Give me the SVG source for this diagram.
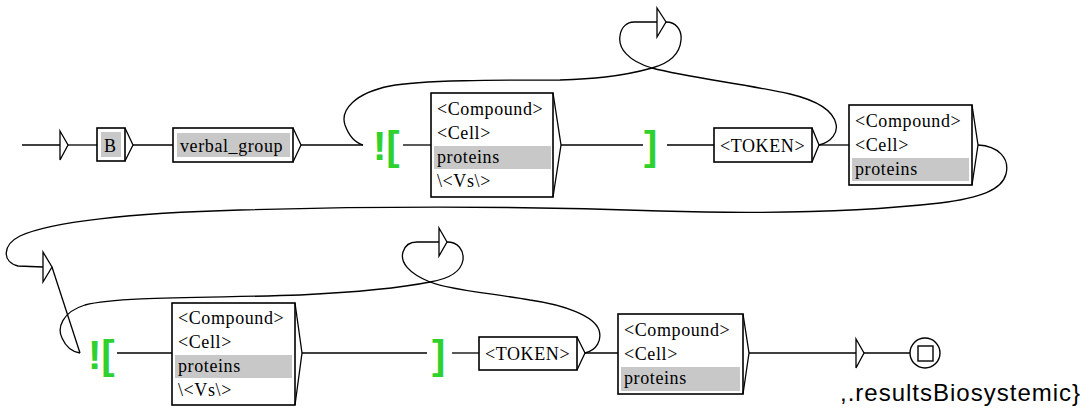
<svg xmlns="http://www.w3.org/2000/svg" width="1091" height="408" viewBox="0 0 1091 408">
<style>
.box{fill:#fff;stroke:#000;stroke-width:1.6}
.hl{fill:#c8c8c8;stroke:none}
.tri{fill:none;stroke:#000;stroke-width:1.3;stroke-linejoin:miter}
.etri{fill:#fff;stroke:#000;stroke-width:1.3}
.c{fill:none;stroke:#000;stroke-width:1.3}
.t{font-family:"Liberation Serif","Times New Roman",serif;font-size:18px;letter-spacing:0.6px;fill:#000}
.g{font-family:"Liberation Sans",Arial,sans-serif;font-weight:bold;font-size:40px;fill:#2ed12e}
.o{font-family:"Liberation Sans",Arial,sans-serif;font-size:24px;letter-spacing:1px;fill:#000}
</style>
<rect width="1091" height="408" fill="#fff"/>
<g id="connectors">
  <line class="c" x1="22" y1="145" x2="60" y2="145"/>
  <line class="c" x1="68" y1="145" x2="97" y2="145"/>
  <line class="c" x1="133" y1="145" x2="173" y2="145"/>
  <line class="c" x1="301" y1="145" x2="363" y2="145"/>
  <line class="c" x1="403" y1="145" x2="431" y2="145"/>
  <line class="c" x1="561" y1="145" x2="643" y2="145"/>
  <line class="c" x1="667" y1="145" x2="714" y2="145"/>
  <line class="c" x1="819" y1="145" x2="849" y2="145"/>
  <path class="c" d="M819,145 C832,142 838,132 836,124 C833,110 815,100 790,94 C740,83 690,78 652,68 C628,61 618,48 620,36 C621,27 627,22 634,22 L657,22"/>
  <path class="c" d="M666,22 C676,22 682,30 681,40 C680,53 670,63 652,68 C620,77 590,79 560,80 C500,80 420,80 390,86 C355,93 340,110 345,125 C349,136 356,143 363,145"/>
  <path class="c" d="M978,145 C998,146 1010,158 1006,174 C1002,190 980,198 940,203 C860,212 760,214 660,211 C520,206 380,206 240,210 C130,213 50,222 20,236 C2,245 2,262 18,266 L43,267"/>
  <line class="c" x1="52" y1="267" x2="80" y2="353"/>
  <path class="c" d="M447,242 C458,242 464,250 463,260 C461,272 448,279 430,282 C390,290 340,293 300,295 C220,298 120,296 85,305 C62,312 57,328 62,338 C66,347 73,352 80,353"/>
  <line class="c" x1="117" y1="353" x2="172" y2="353"/>
  <line class="c" x1="302" y1="353" x2="427" y2="353"/>
  <line class="c" x1="452" y1="353" x2="479" y2="353"/>
  <path class="c" d="M585,353 C597,350 602,340 599,330 C594,316 565,305 530,300 C490,293 450,290 430,282 C408,273 400,262 403,252 C405,245 410,242 417,242 L439,242"/>
  <line class="c" x1="585" y1="353" x2="618" y2="353"/>
  <line class="c" x1="749" y1="353" x2="856" y2="353"/>
  <line class="c" x1="864" y1="353" x2="910" y2="353"/>
</g>
<g id="initial">
  <polygon class="etri" points="60,131 68,145 60,160"/>
</g>
<g id="box-B">
  <rect class="box" x="97" y="128" width="28" height="33"/>
  <rect class="hl" x="101" y="132" width="20" height="25"/>
  <text class="t" x="104" y="152">B</text>
  <polyline class="tri" points="125,128 133,145 125,161"/>
</g>
<g id="box-verbal-group">
  <rect class="box" x="173" y="128" width="120" height="34"/>
  <rect class="hl" x="177" y="133" width="113" height="24"/>
  <text class="t" x="180" y="152">verbal_group</text>
  <polyline class="tri" points="293,128 301,145 293,162"/>
</g>
<g id="ctx-open-1">
  <text class="g" x="373" y="160">![</text>
</g>
<g id="box-compound-1">
  <rect class="box" x="431" y="93" width="122" height="104"/>
  <rect class="hl" x="434" y="146" width="117" height="23"/>
  <text class="t" x="437" y="115">&lt;Compound&gt;</text>
  <text class="t" x="437" y="139">&lt;Cell&gt;</text>
  <text class="t" x="437" y="163">proteins</text>
  <text class="t" x="437" y="187">\&lt;Vs\&gt;</text>
  <polyline class="tri" points="553,93 561,145 553,197"/>
</g>
<g id="ctx-close-1">
  <text class="g" x="644" y="160">]</text>
</g>
<g id="box-token-1">
  <rect class="box" x="714" y="128" width="98" height="34"/>
  <text class="t" x="720" y="152">&lt;TOKEN&gt;</text>
  <polyline class="tri" points="812,128 819,145 812,162"/>
</g>
<g id="eps-1">
  <polygon class="etri" points="657,8 666,22 657,37"/>
</g>
<g id="box-compound-2">
  <rect class="box" x="849" y="105" width="123" height="80"/>
  <rect class="hl" x="852" y="158" width="117" height="23"/>
  <text class="t" x="855" y="127">&lt;Compound&gt;</text>
  <text class="t" x="855" y="151">&lt;Cell&gt;</text>
  <text class="t" x="855" y="175">proteins</text>
  <polyline class="tri" points="972,105 978,145 972,185"/>
</g>
<g id="eps-2">
  <polygon class="etri" points="43,252 52,267 43,282"/>
</g>
<g id="ctx-open-2">
  <text class="g" x="88" y="369">![</text>
</g>
<g id="box-compound-3">
  <rect class="box" x="172" y="303" width="123" height="102"/>
  <rect class="hl" x="175" y="355" width="117" height="23"/>
  <text class="t" x="178" y="324">&lt;Compound&gt;</text>
  <text class="t" x="178" y="348">&lt;Cell&gt;</text>
  <text class="t" x="178" y="372">proteins</text>
  <text class="t" x="178" y="396">\&lt;Vs\&gt;</text>
  <polyline class="tri" points="295,303 302,353 295,405"/>
</g>
<g id="ctx-close-2">
  <text class="g" x="432" y="369">]</text>
</g>
<g id="box-token-2">
  <rect class="box" x="479" y="337" width="98" height="33"/>
  <text class="t" x="485" y="360">&lt;TOKEN&gt;</text>
  <polyline class="tri" points="577,337 585,353 577,370"/>
</g>
<g id="eps-3">
  <polygon class="etri" points="439,228 447,242 439,256"/>
</g>
<g id="box-compound-4">
  <rect class="box" x="618" y="314" width="125" height="80"/>
  <rect class="hl" x="621" y="367" width="119" height="24"/>
  <text class="t" x="624" y="336">&lt;Compound&gt;</text>
  <text class="t" x="624" y="360">&lt;Cell&gt;</text>
  <text class="t" x="624" y="384">proteins</text>
  <polyline class="tri" points="743,314 749,353 743,394"/>
</g>
<g id="eps-4">
  <polygon class="etri" points="856,339 864,353 856,368"/>
</g>
<g id="final">
  <circle cx="925" cy="353" r="15" fill="#fff" stroke="#000" stroke-width="1.4"/>
  <rect x="918" y="346" width="15" height="15" fill="none" stroke="#000" stroke-width="1.4"/>
  <text class="o" x="840" y="401">,.resultsBiosystemic}</text>
</g>
</svg>
